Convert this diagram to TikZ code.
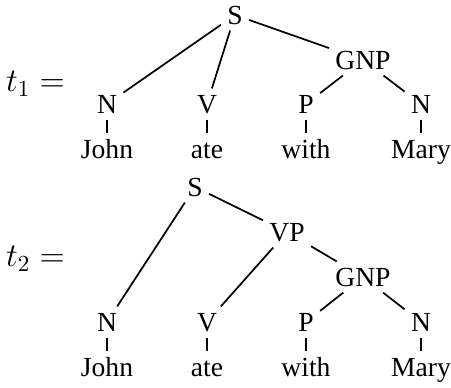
\documentclass[tikz,border=0pt]{standalone}
\usepackage{fontspec}
\setmainfont{Liberation Serif}
\begin{document}
\begin{tikzpicture}[x=0.435pt,y=-0.435pt,
  lab/.style={font=\fontsize{12}{14}\selectfont, text height=7.94pt, text depth=0pt, inner sep=2.6pt},
  mlab/.style={font=\fontsize{13.6}{16}\selectfont, inner sep=0pt},
  edge/.style={line width=0.75pt}]
\useasboundingbox (0,0) rectangle (451,387);
% ---- tree 1 ----
\node[mlab] (t1) at (35.5,84) {$t_1 =$};
\node[lab] (aS) at (235,15) {S};
\node[lab] (aGNP) at (363,60) {GNP};
\node[lab] (aN1) at (107,104) {N};
\node[lab] (aV) at (207,104) {V};
\node[lab] (aP) at (306,104) {P};
\node[lab] (aN2) at (421,104) {N};
\node[lab] (aJohn) at (107,149) {John};
\node[lab] (aate) at (207,149) {ate};
\node[lab] (awith) at (306,149) {with};
\node[lab] (aMary) at (421,149) {Mary};
\draw[edge] (aS) -- (aN1);
\draw[edge] (aS) -- (aV);
\draw[edge] (aS) -- (aGNP);
\draw[edge] (aGNP) -- (aP);
\draw[edge] (aGNP) -- (aN2);
\draw[edge] (aN1) -- (aJohn);
\draw[edge] (aV) -- (aate);
\draw[edge] (aP) -- (awith);
\draw[edge] (aN2) -- (aMary);
% ---- tree 2 ----
\node[mlab] (t2) at (35.5,259) {$t_2 =$};
\node[lab] (bS) at (195,187) {S};
\node[lab] (bVP) at (287,232) {VP};
\node[lab] (bGNP) at (363,277) {GNP};
\node[lab] (bN1) at (107,322) {N};
\node[lab] (bV) at (207,322) {V};
\node[lab] (bP) at (306,322) {P};
\node[lab] (bN2) at (421,322) {N};
\node[lab] (bJohn) at (107,367) {John};
\node[lab] (bate) at (207,367) {ate};
\node[lab] (bwith) at (306,367) {with};
\node[lab] (bMary) at (421,367) {Mary};
\draw[edge] (bS) -- (bN1);
\draw[edge] (bS) -- (bVP);
\draw[edge] (bVP) -- (bV);
\draw[edge] (bVP) -- (bGNP);
\draw[edge] (bGNP) -- (bP);
\draw[edge] (bGNP) -- (bN2);
\draw[edge] (bN1) -- (bJohn);
\draw[edge] (bV) -- (bate);
\draw[edge] (bP) -- (bwith);
\draw[edge] (bN2) -- (bMary);
\end{tikzpicture}
\end{document}
